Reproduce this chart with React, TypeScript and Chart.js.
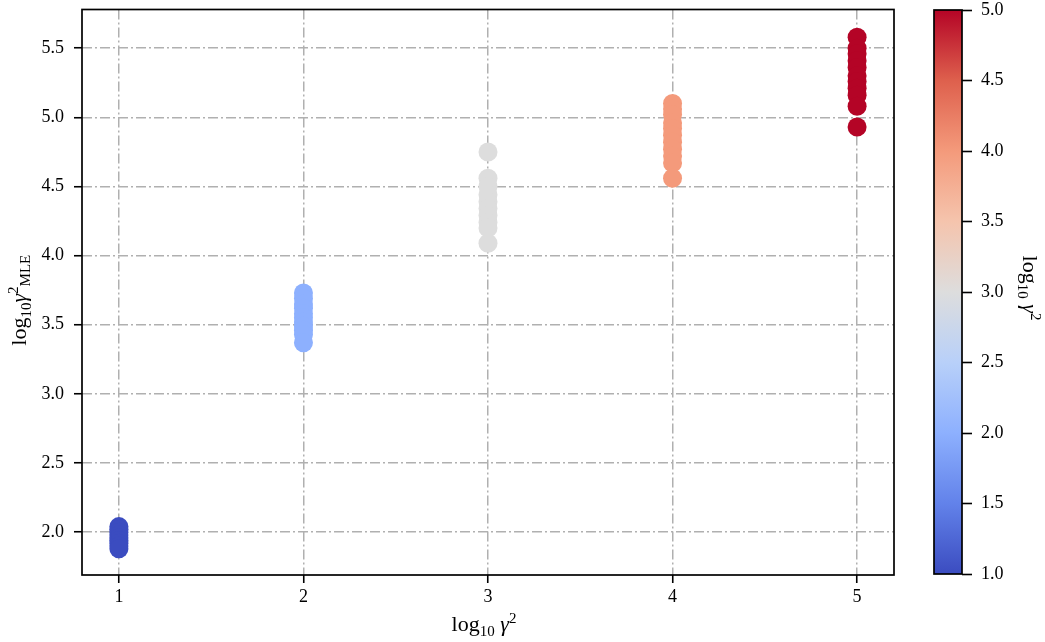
import React, { useEffect, useRef } from "react";
import { Chart, registerables } from "chart.js";

Chart.register(...registerables);

// ---- data ----
const xLevels = [1, 2, 3, 4, 5];
const yLevel1 = [2.04, 2.02, 2.0, 1.98, 1.96, 1.94, 1.92, 1.9, 1.88];
const yLevel2 = [3.73, 3.69, 3.65, 3.62, 3.58, 3.55, 3.52, 3.49, 3.46, 3.43, 3.37];
const yLevel3 = [4.75, 4.56, 4.5, 4.44, 4.39, 4.34, 4.29, 4.24, 4.2, 4.09];
const yLevel4 = [5.1, 5.06, 5.02, 4.96, 4.92, 4.87, 4.82, 4.77, 4.72, 4.67, 4.56];
const yLevel5 = [5.58, 5.5, 5.46, 5.41, 5.36, 5.3, 5.26, 5.21, 5.16, 5.08, 4.93];
const yLevels = [yLevel1, yLevel2, yLevel3, yLevel4, yLevel5];

const xTicks = [1, 2, 3, 4, 5];
const yTicks = [2.0, 2.5, 3.0, 3.5, 4.0, 4.5, 5.0, 5.5];
const cbTicks = [1.0, 1.5, 2.0, 2.5, 3.0, 3.5, 4.0, 4.5, 5.0];
const cbRange = [1, 5];

// coolwarm colormap stops
const coolwarm: [number, number, number, number][] = [
  [0.0, 59, 76, 192],
  [0.125, 98, 130, 234],
  [0.25, 141, 176, 254],
  [0.375, 184, 208, 249],
  [0.5, 221, 221, 221],
  [0.625, 245, 196, 173],
  [0.75, 244, 154, 123],
  [0.875, 222, 96, 77],
  [1.0, 180, 4, 38],
];

function cmap(t: number): string {
  t = Math.max(0, Math.min(1, t));
  for (let i = 1; i < coolwarm.length; i++) {
    const a = coolwarm[i - 1];
    const b = coolwarm[i];
    if (t <= b[0]) {
      const f = (t - a[0]) / (b[0] - a[0]);
      const r = Math.round(a[1] + (b[1] - a[1]) * f);
      const g = Math.round(a[2] + (b[2] - a[2]) * f);
      const bl = Math.round(a[3] + (b[3] - a[3]) * f);
      return `rgb(${r},${g},${bl})`;
    }
  }
  return "rgb(180,4,38)";
}
const norm = (v: number) => (v - cbRange[0]) / (cbRange[1] - cbRange[0]);

const FONT = "'Liberation Serif', 'DejaVu Serif', serif";

type Run = { text: string; size: number; dy: number; italic?: boolean };

function drawRich(ctx: CanvasRenderingContext2D, runs: Run[], x: number, y: number, rot: number) {
  ctx.save();
  ctx.translate(x, y);
  ctx.rotate(rot);
  ctx.fillStyle = "#000";
  ctx.textBaseline = "alphabetic";
  ctx.textAlign = "left";
  let total = 0;
  const fontOf = (r: Run) => `${r.italic ? "italic " : ""}${r.size}px ${FONT}`;
  const widths = runs.map((r) => {
    ctx.font = fontOf(r);
    const w = ctx.measureText(r.text).width;
    total += w;
    return w;
  });
  let cx = -total / 2;
  runs.forEach((r, i) => {
    ctx.font = fontOf(r);
    ctx.fillText(r.text, cx, r.dy);
    cx += widths[i];
  });
  ctx.restore();
}

const BIG = 22;
const SMALL = 15;

const xTitle: Run[] = [
  { text: "log", size: BIG, dy: 0 },
  { text: "10", size: SMALL, dy: 5 },
  { text: " γ", size: BIG, dy: 0, italic: true },
  { text: "2", size: SMALL, dy: -8 },
];
const yTitle: Run[] = [
  { text: "log", size: BIG, dy: 0 },
  { text: "10", size: SMALL, dy: 5 },
  { text: "γ", size: BIG, dy: 0, italic: true },
  { text: "2", size: SMALL, dy: -8 },
  { text: "MLE", size: SMALL, dy: 4 },
];
const cbTitle: Run[] = [
  { text: "log", size: BIG, dy: 0 },
  { text: "10", size: SMALL, dy: 5 },
  { text: " γ", size: BIG, dy: 0, italic: true },
  { text: "2", size: SMALL, dy: -8 },
];

const framePlugin = {
  id: "frame",
  afterDatasetsDraw(chart: any) {
    const { ctx, chartArea } = chart;
    ctx.save();
    ctx.strokeStyle = "#000";
    ctx.lineWidth = 1.7;
    ctx.strokeRect(chartArea.left, chartArea.top, chartArea.right - chartArea.left, chartArea.bottom - chartArea.top);
    ctx.restore();
  },
};

const noPad = (s: any) => {
  s.paddingTop = 0;
  s.paddingBottom = 0;
  s.paddingLeft = 0;
  s.paddingRight = 0;
};

export default function App() {
  const mainRef = useRef<HTMLCanvasElement>(null);
  const cbRef = useRef<HTMLCanvasElement>(null);

  useEffect(() => {
    const gridCommon = {
      color: "#b0b0b0",
      lineWidth: 1.5,
      tickColor: "#000",
      tickLength: 8,
      tickWidth: 1.6,
      tickBorderDash: [],
      drawOnChartArea: true,
    };
    const borderCommon = { display: false, dash: [10, 3, 2, 3] };

    const datasets = xLevels.map((lvl, i) => ({
      label: `level ${lvl}`,
      data: yLevels[i].map((y) => ({ x: lvl, y })),
      backgroundColor: cmap(norm(lvl)),
      borderColor: cmap(norm(lvl)),
      borderWidth: 0,
      pointRadius: 9.5,
      pointHoverRadius: 9.5,
    }));

    const titlesPlugin = {
      id: "titles",
      afterDraw(chart: any) {
        const { ctx, chartArea } = chart;
        const cx = (chartArea.left + chartArea.right) / 2;
        const cy = (chartArea.top + chartArea.bottom) / 2;
        drawRich(ctx, xTitle, cx - 4, 631, 0);
        drawRich(ctx, yTitle, 26, cy + 8, -Math.PI / 2);
      },
    };

    const main = new Chart(mainRef.current!, {
      type: "scatter",
      data: { datasets },
      plugins: [framePlugin, titlesPlugin],
      options: {
        animation: false,
        responsive: false,
        events: [],
        layout: { padding: { left: 0, top: 8, right: 151, bottom: 0 } },
        plugins: { legend: { display: false }, tooltip: { enabled: false } },
        scales: {
          x: {
            type: "linear",
            min: 0.8,
            max: 5.2,
            afterBuildTicks: (s: any) => {
              s.ticks = xTicks.map((v) => ({ value: v }));
            },
            afterFit: (s: any) => {
              s.height = 67;
              noPad(s);
            },
            grid: { ...gridCommon, borderDash: [10, 3, 2, 3] },
            border: borderCommon,
            ticks: {
              color: "#000",
              font: { family: FONT, size: 18 },
              padding: 3,
              maxRotation: 0,
              callback: (v: any) => String(v),
            },
          },
          y: {
            type: "linear",
            min: 1.69,
            max: 5.78,
            afterBuildTicks: (s: any) => {
              s.ticks = yTicks.map((v) => ({ value: v }));
            },
            afterFit: (s: any) => {
              s.width = 82;
              noPad(s);
            },
            grid: { ...gridCommon, borderDash: [10, 3, 2, 3] },
            border: borderCommon,
            ticks: {
              color: "#000",
              font: { family: FONT, size: 18 },
              padding: 10,
              callback: (v: any) => Number(v).toFixed(1),
            },
          },
        },
      },
    } as any);

    const cbTitlePlugin = {
      id: "cbtitle",
      afterDraw(chart: any) {
        const { ctx, chartArea } = chart;
        const cy = (chartArea.top + chartArea.bottom) / 2;
        drawRich(ctx, cbTitle, 1023 - 920, cy - 4, Math.PI / 2);
      },
    };

    const cb = new Chart(cbRef.current!, {
      type: "bar",
      data: {
        labels: [""],
        datasets: [
          {
            data: [[cbRange[0], cbRange[1]]],
            backgroundColor: (c: any) => {
              const ca = c.chart.chartArea;
              if (!ca) return "#ccc";
              const g = c.chart.ctx.createLinearGradient(0, ca.bottom, 0, ca.top);
              coolwarm.forEach((s) => g.addColorStop(s[0], `rgb(${s[1]},${s[2]},${s[3]})`));
              return g;
            },
            borderWidth: 0,
            barPercentage: 1,
            categoryPercentage: 1,
          },
        ],
      },
      plugins: [framePlugin, cbTitlePlugin],
      options: {
        animation: false,
        responsive: false,
        events: [],
        layout: { padding: { left: 14, top: 10, right: 0, bottom: 68 } },
        plugins: { legend: { display: false }, tooltip: { enabled: false } },
        scales: {
          x: { display: false },
          y: {
            type: "linear",
            position: "right",
            min: cbRange[0],
            max: cbRange[1],
            afterBuildTicks: (s: any) => {
              s.ticks = cbTicks.map((v) => ({ value: v }));
            },
            afterFit: (s: any) => {
              s.width = 83;
              noPad(s);
            },
            grid: {
              drawOnChartArea: false,
              tickColor: "#000",
              tickLength: 10,
              tickWidth: 1.6,
              tickBorderDash: [],
            },
            border: { display: false },
            ticks: {
              color: "#000",
              font: { family: FONT, size: 18 },
              padding: 9,
              callback: (v: any) => Number(v).toFixed(1),
            },
          },
        },
      },
    } as any);

    return () => {
      main.destroy();
      cb.destroy();
    };
  }, []);

  return (
    <div style={{ position: "fixed", left: 0, top: 0, width: 1045, height: 642, background: "#fff" }}>
      <canvas ref={mainRef} width={1045} height={642} style={{ position: "absolute", left: 0, top: 0 }} />
      <canvas ref={cbRef} width={125} height={642} style={{ position: "absolute", left: 920, top: 0 }} />
    </div>
  );
}
